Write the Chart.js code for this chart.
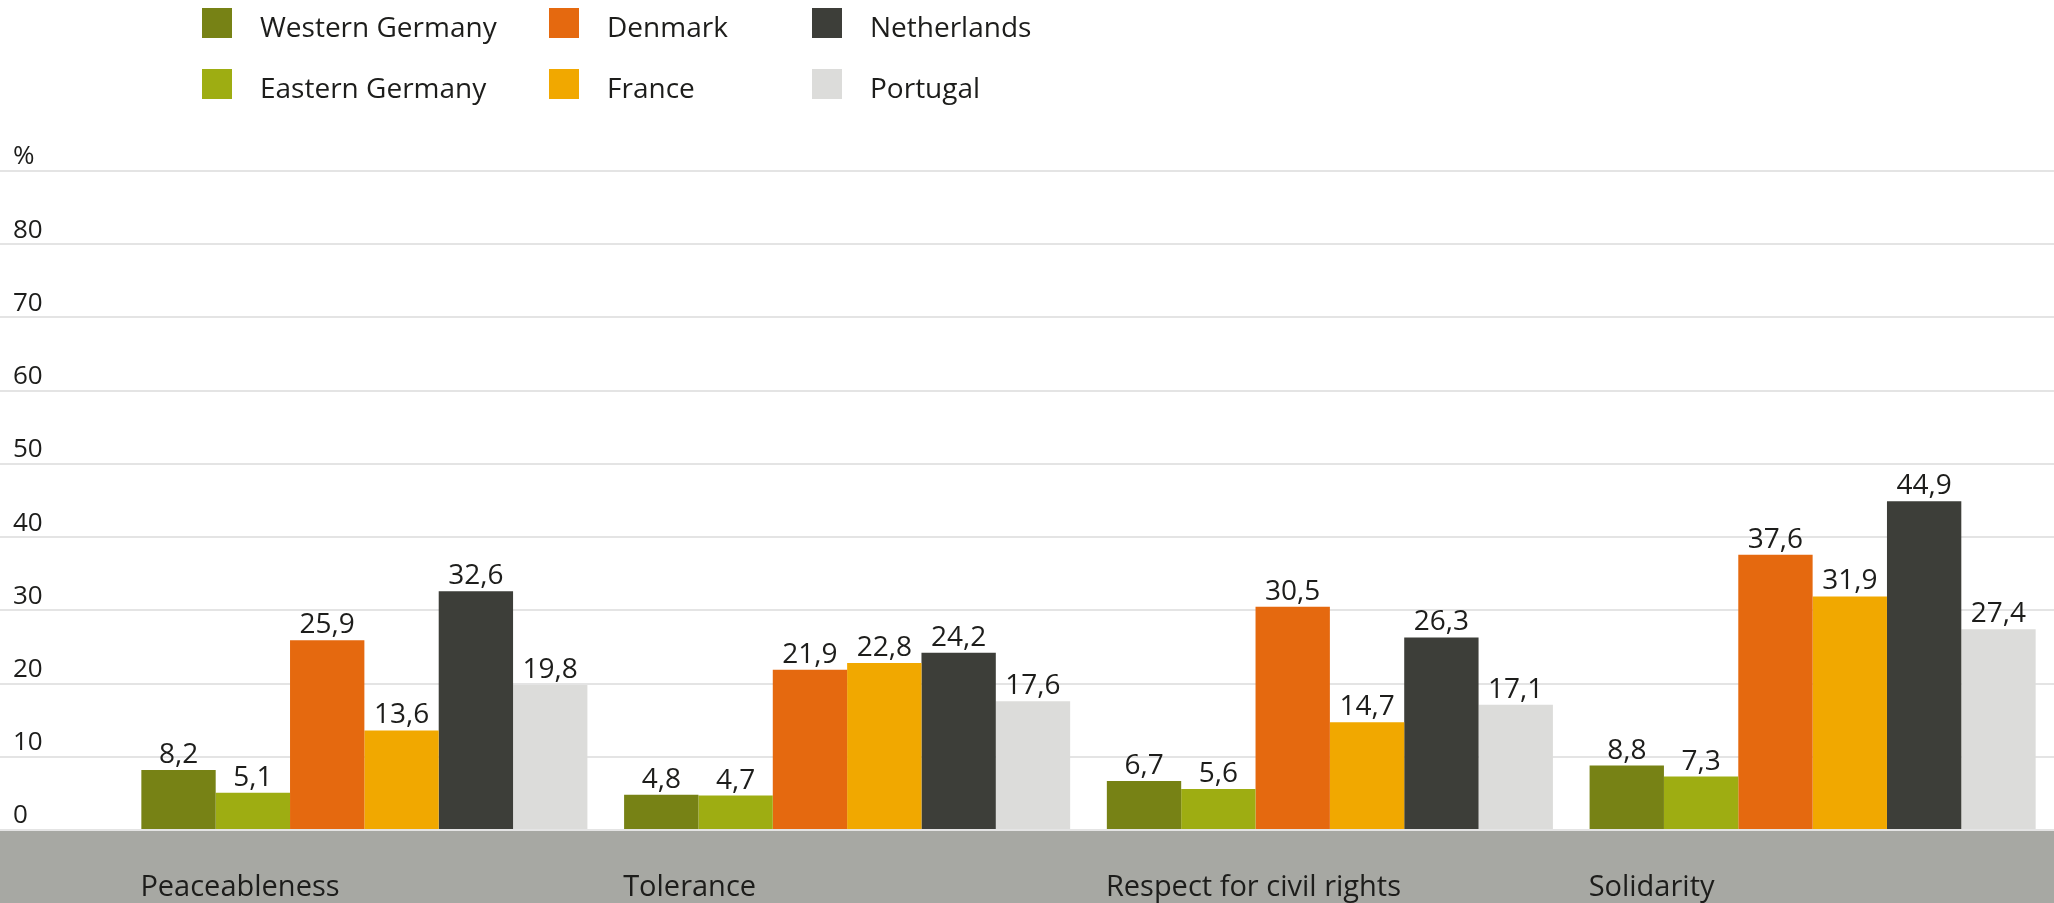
<!DOCTYPE html>
<html lang="en">

<head>
  <meta charset="UTF-8">
  <title>Values by country</title>
  <script src="https://cdn.jsdelivr.net/npm/chart.js"></script>
  <style>
    body {
      margin: 0;
      background: #fff;
      font-family: 'Open Sans', sans-serif;
    }

    .wrap {
      position: relative;
      width: 2054px;
      height: 903px;
    }

    /* legend: 3 columns x 2 rows, filled column by column */
    .legend {
      position: absolute;
      left: 202px;
      top: 8px;
      display: grid;
      grid-template-columns: 347px 263px auto;
      grid-template-rows: 61px 61px;
      grid-auto-flow: column;
    }

    .legend-item {
      display: flex;
      align-items: flex-start;
      font-size: 28px;
      color: #1d1d1b;
    }

    .legend-item .box {
      width: 30px;
      height: 30px;
      margin-right: 28px;
      flex: none;
    }

    .legend-item span {
      line-height: 30px;
      padding-top: 3px;
    }
  </style>
</head>

<body>
  <div class="wrap">
    <div class="legend" id="legend"></div>
    <canvas id="valuesChart" width="2054" height="903"></canvas>
  </div>

  <script>
    const categories = ["Peaceableness", "Tolerance", "Respect for civil rights", "Solidarity"];
    const seriesNames = ["Western Germany", "Eastern Germany", "Denmark", "France", "Netherlands", "Portugal"];
    const seriesColors = ["#778215", "#9ead12", "#e5690f", "#f1a800", "#3d3e39", "#dcdcda"];

    const westernGermany = [8.2, 4.8, 6.7, 8.8];
    const easternGermany = [5.1, 4.7, 5.6, 7.3];
    const denmark = [25.9, 21.9, 30.5, 37.6];
    const france = [13.6, 22.8, 14.7, 31.9];
    const netherlands = [32.6, 24.2, 26.3, 44.9];
    const portugal = [19.8, 17.6, 17.1, 27.4];

    const yTicks = [0, 10, 20, 30, 40, 50, 60, 70, 80, 90];
    const topTickLabel = "%";

    const seriesValues = [westernGermany, easternGermany, denmark, france, netherlands, portugal];

    const font = "'Open Sans', sans-serif";

    // grey band under the zero line
    const bandPlugin = {
      id: "band",
      beforeDraw(chart) {
        const y0 = chart.scales.y.getPixelForValue(0);
        const ctx = chart.ctx;
        ctx.save();
        ctx.fillStyle = "#a7a8a3";
        ctx.fillRect(0, y0, chart.width, chart.height - y0);
        ctx.restore();
      }
    };

    // numbers on top of the bars, decimal comma
    const valueLabels = {
      id: "valueLabels",
      afterDatasetsDraw(chart) {
        const ctx = chart.ctx;
        ctx.save();
        ctx.font = "28px " + font;
        ctx.fillStyle = "#1d1d1b";
        ctx.textAlign = "center";
        ctx.textBaseline = "alphabetic";
        chart.data.datasets.forEach((ds, i) => {
          chart.getDatasetMeta(i).data.forEach((bar, j) => {
            const txt = ds.data[j].toFixed(1).replace(".", ",");
            ctx.fillText(txt, bar.x, bar.y - 7);
          });
        });
        ctx.restore();
      }
    };

    function buildLegend() {
      const legend = document.getElementById("legend");
      let html = "";
      seriesNames.forEach((name, i) => {
        html += `<div class="legend-item"><div class="box" style="background:${seriesColors[i]}"></div><span>${name}</span></div>`;
      });
      legend.innerHTML = html;
    }

    function buildChart() {
      const ctx = document.getElementById("valuesChart").getContext("2d");
      new Chart(ctx, {
        type: "bar",
        data: {
          labels: categories,
          datasets: seriesNames.map((name, i) => ({
            label: name,
            data: seriesValues[i],
            backgroundColor: seriesColors[i],
            borderWidth: 0,
            barPercentage: 1,
            categoryPercentage: 0.924
          }))
        },
        options: {
          responsive: false,
          animation: false,
          layout: {
            padding: { top: 171, left: 13, right: 0, bottom: 0 }
          },
          plugins: {
            legend: { display: false },
            tooltip: { enabled: false }
          },
          scales: {
            x: {
              grid: { display: false },
              border: { display: false },
              ticks: {
                color: "#1d1d1b",
                font: { family: font, size: 29 },
                align: "start",
                labelOffset: -224,
                padding: 32,
                maxRotation: 0,
                autoSkip: false
              },
              afterFit(scale) {
                scale.height = 73;
              }
            },
            y: {
              min: 0,
              max: 90,
              afterBuildTicks(scale) {
                scale.ticks = yTicks.map(v => ({ value: v }));
              },
              grid: {
                color: "#e4e4e4",
                lineWidth: 2,
                drawTicks: true,
                tickLength: 123
              },
              border: { display: false },
              ticks: {
                color: "#1d1d1b",
                font: { family: font, size: 26 },
                crossAlign: "far",
                labelOffset: -14,
                callback: v => (v === 90 ? topTickLabel : String(v))
              },
              afterFit(scale) {
                scale.width = 110;
              }
            }
          }
        },
        plugins: [bandPlugin, valueLabels]
      });
    }

    buildLegend();
    buildChart();
  </script>
</body>

</html>
